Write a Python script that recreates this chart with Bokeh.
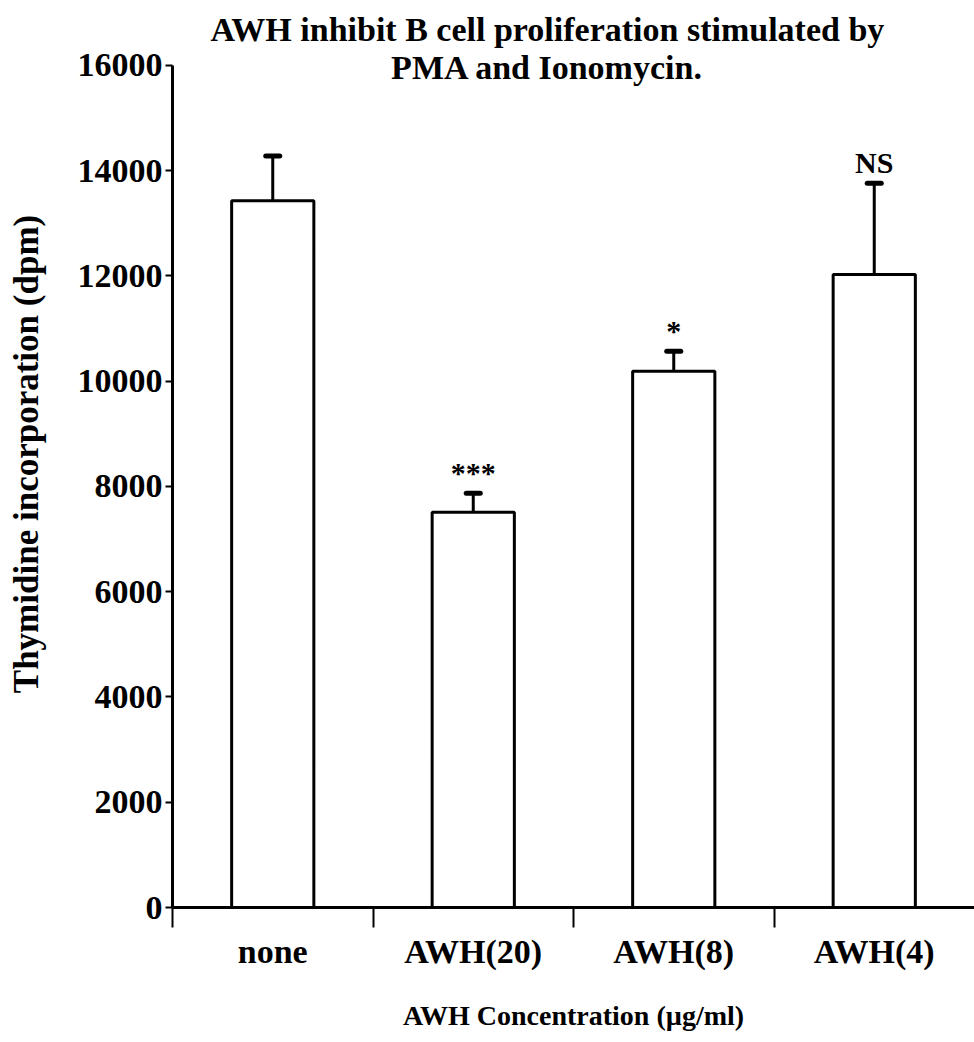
from bokeh.plotting import figure
from bokeh.models import Range1d, FixedTicker, Label, ColumnDataSource
from bokeh.core.properties import value
from bokeh.embed import file_html
from bokeh.resources import INLINE

# Thymidine incorporation (dpm), mean and upper error
categories = ["none", "AWH(20)", "AWH(8)", "AWH(4)"]
means = [13430, 7510, 10190, 12030]
errors = [850, 360, 380, 1730]
marks = ["", "***", "*", "NS"]
y_ticks = [0, 2000, 4000, 6000, 8000, 10000, 12000, 14000, 16000]

FONT = "Liberation Serif"

centers = [i + 0.5 for i in range(len(categories))]
tops = [m + e for m, e in zip(means, errors)]
src = ColumnDataSource(dict(x=centers, mean=means, top=tops, mark=marks,
                            cap0=[c - 0.035 for c in centers],
                            cap1=[c + 0.035 for c in centers]))

# the frame runs to the top of the canvas so the title can sit inside it;
# the visible y axis stops at 16000
p = figure(width=974, height=1042, x_range=Range1d(0, len(categories)),
           y_range=Range1d(0, 17235), output_backend="svg", toolbar_location=None,
           min_border_left=172, min_border_right=0, min_border_top=0,
           min_border_bottom=135)
p.outline_line_color = None
p.xgrid.visible = False
p.ygrid.visible = False
p.background_fill_color = "white"
p.border_fill_color = "white"

# error whiskers (upper only) with caps
p.segment(x0="x", y0="mean", x1="x", y1="top", source=src,
          line_color="black", line_width=3)
p.segment(x0="cap0", y0="top", x1="cap1", y1="top", source=src,
          line_color="black", line_width=5, line_cap="round")

# bars
p.vbar(x="x", top="mean", width=0.41, source=src, fill_color="white",
       line_color="black", line_width=3)

# significance marks above the error caps
p.text(x="x", y="top", text="mark", source=src, text_align="center",
       text_baseline="bottom", y_offset=-4, text_font=value(FONT),
       text_font_style="bold", text_font_size="30px", text_color="black")

# y axis
ya = p.yaxis[0]
ya.bounds = (0, 16000)
ya.ticker = FixedTicker(ticks=y_ticks, minor_ticks=[])
ya.major_label_text_font = FONT
ya.major_label_text_font_style = "bold"
ya.major_label_text_font_size = "34px"
ya.major_label_text_color = "black"
ya.major_tick_in = 0
ya.major_tick_out = 7
ya.major_tick_line_width = 2
ya.major_label_standoff = 3
ya.axis_line_width = 3
ya.axis_label = "Thymidine incorporation (dpm)"
ya.axis_label_text_font = FONT
ya.axis_label_text_font_style = "bold"
ya.axis_label_text_font_size = "35px"
ya.axis_label_text_color = "black"
ya.axis_label_standoff = 29

# x axis: labels centred in each category, ticks at category boundaries
xa = p.xaxis[0]
xa.ticker = FixedTicker(ticks=centers, minor_ticks=list(range(len(categories))))
xa.major_label_overrides = {c: name for c, name in zip(centers, categories)}
xa.major_label_text_font = FONT
xa.major_label_text_font_style = "bold"
xa.major_label_text_font_size = "34px"
xa.major_label_text_color = "black"
xa.major_tick_in = 0
xa.major_tick_out = 0
xa.minor_tick_in = 0
xa.minor_tick_out = 20
xa.minor_tick_line_width = 2
xa.minor_tick_line_color = "black"
xa.major_label_standoff = 5
xa.axis_line_width = 3
xa.axis_label = "AWH Concentration (\u00b5g/ml)"
xa.axis_label_text_font = FONT
xa.axis_label_text_font_style = "bold"
xa.axis_label_text_font_size = "28px"
xa.axis_label_text_color = "black"
xa.axis_label_standoff = 27

# two-line title
for txt, yv in [("AWH inhibit B cell proliferation stimulated by", 16684),
                ("PMA and Ionomycin.", 15962)]:
    p.add_layout(Label(x=1.87, y=yv, text=txt, text_align="center",
                       text_baseline="middle", text_font=FONT,
                       text_font_style="bold", text_font_size="34px",
                       text_color="black"))

open("out.html", "w").write(file_html(p, INLINE))
